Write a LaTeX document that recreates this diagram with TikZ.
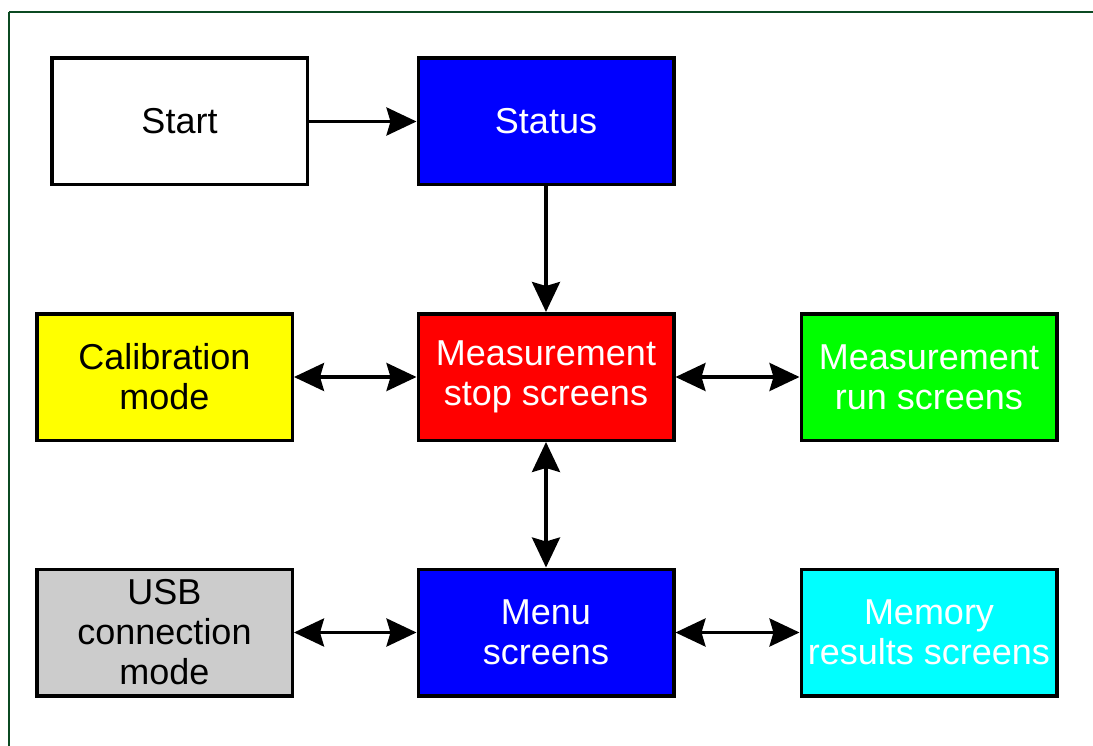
\documentclass[tikz,border=0pt]{standalone}
\usepackage{fontspec}
\setmainfont{Liberation Sans}
\usetikzlibrary{arrows.meta}
\definecolor{framegreen}{HTML}{0B4A22}
\definecolor{boxgray}{HTML}{CCCCCC}
\definecolor{boxcyan}{HTML}{00FFFF}
\definecolor{boxblue}{HTML}{0000FF}
\definecolor{boxred}{HTML}{FF0000}
\definecolor{boxgreen}{HTML}{00FF00}
\definecolor{boxyellow}{HTML}{FFFF00}
\tikzset{
  box/.style={draw=black, line width=3.5pt, minimum width=255.5pt, minimum height=126.5pt,
    inner sep=0pt, align=center, font=\fontsize{36}{40}\selectfont},
  link/.style={line width=3.5pt, -{Stealth[length=30pt,width=28pt,inset=4pt]}},
  blink/.style={line width=3.5pt, {Stealth[length=30pt,width=28pt,inset=4pt]}-{Stealth[length=30pt,width=28pt,inset=4pt]}}
}
\begin{document}
\begin{tikzpicture}[x=1pt,y=-1pt]
\useasboundingbox (0,0) rectangle (1093,746);
\draw[framegreen, line width=2.5pt] (9,12) -- (1200,12);
\draw[framegreen, line width=2.5pt] (9,12) -- (9,800);
\node[box, fill=white, text=black] (start) at (179.5,121.5) {Start};
\node[box, fill=boxblue, text=white] (status) at (546,121.5) {Status};
\node[box, fill=boxyellow, text=black] (calib) at (164.5,377) {Calibration\\mode};
\node[box, fill=boxred, text=white] (stop) at (546,377) {Measurement\\stop screens};
\node[box, fill=boxgreen, text=white] (run) at (929,377) {Measurement\\run screens};
\node[box, fill=boxgray, text=black] (usb) at (164.5,632.5) {USB\\connection\\mode};
\node[box, fill=boxblue, text=white] (menu) at (546,632.5) {Menu\\screens};
\node[box, fill=boxcyan, text=white] (memory) at (929,632.5) {Memory\\results screens};
\draw[link] (start) -- (status);
\draw[link] (status) -- (stop);
\draw[blink] (calib) -- (stop);
\draw[blink] (stop) -- (run);
\draw[blink] (stop) -- (menu);
\draw[blink] (usb) -- (menu);
\draw[blink] (menu) -- (memory);
\end{tikzpicture}
\end{document}
